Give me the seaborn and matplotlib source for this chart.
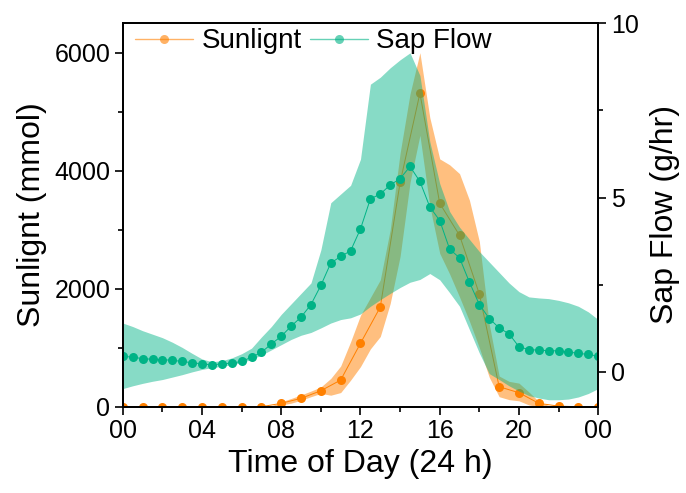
import numpy as np
import pandas as pd
import seaborn as sns
import matplotlib.pyplot as plt
from matplotlib.ticker import MultipleLocator

# hourly sunlight (left axis)
sun_hours = list(range(25))
sunlight = [0, 0, 0, 0, 0, 0, 0, 0, 58, 142, 271, 452, 1075, 1690, 3800, 5312,
            3447, 2905, 1910, 339, 237, 58, 10, 0, 0]

# half-hour grid for sap flow and both bands
half_hours = [i * 0.5 for i in range(49)]
sap_flow = [0.45, 0.42, 0.38, 0.36, 0.35, 0.33, 0.30, 0.26, 0.23, 0.20, 0.23, 0.25,
            0.30, 0.42, 0.56, 0.80, 1.02, 1.31, 1.57, 1.93, 2.48, 3.12, 3.31, 3.47,
            4.10, 4.96, 5.10, 5.36, 5.54, 5.89, 5.46, 4.73, 4.34, 3.52, 3.27, 2.57,
            1.93, 1.53, 1.26, 1.09, 0.72, 0.64, 0.62, 0.61, 0.60, 0.57, 0.53, 0.50, 0.45]
sap_low = [-0.48, -0.40, -0.33, -0.27, -0.22, -0.15, -0.08, 0.00, 0.07, 0.12, 0.16, 0.21,
           0.26, 0.36, 0.48, 0.63, 0.78, 0.93, 1.05, 1.13, 1.26, 1.40, 1.50, 1.55,
           1.66, 1.88, 2.07, 2.25, 2.42, 2.57, 2.65, 2.82, 2.64, 2.27, 1.88, 1.21,
           0.54, -0.05, -0.22, -0.40, -0.55, -0.68, -0.75, -0.80, -0.80, -0.78, -0.72, -0.62, -0.48]
sap_high = [1.40, 1.30, 1.18, 1.08, 0.98, 0.85, 0.70, 0.53, 0.37, 0.29, 0.32, 0.40,
            0.52, 0.68, 1.00, 1.30, 1.65, 1.95, 2.25, 2.55, 3.50, 4.85, 5.10, 5.35,
            6.10, 8.25, 8.45, 8.72, 8.95, 9.15, 8.50, 6.60, 5.40, 4.60, 4.15, 3.80,
            3.45, 3.15, 2.85, 2.55, 2.30, 2.15, 2.12, 2.10, 2.05, 1.98, 1.88, 1.72, 1.50]
sun_low = [0, 0, 0, 0, 0, 0, 0, 0, 0, 0, 0, 0, 0, 0, 0, 0, 30, 60, 110, 170,
           225, 195, 240, 450, 680, 980, 1190, 1750, 2550, 3800, 4600, 3400, 2600, 2250,
           1860, 1450, 1000, 500, 170, 120, 100, 30, 0, 0, 0, 0, 0, 0, 0]
sun_high = [0, 0, 0, 0, 0, 0, 0, 0, 0, 0, 0, 0, 0, 0, 0, 15, 85, 140, 200, 265,
            335, 480, 690, 1100, 1550, 1850, 2150, 3000, 4300, 5300, 6000, 4900, 4200, 4100,
            3950, 3500, 2800, 1400, 520, 430, 400, 250, 90, 20, 0, 0, 0, 0, 0]

x_labels = ["00", "04", "08", "12", "16", "20", "00"]

orange = "#FF8000"
green = "#00B386"

sun_df = pd.DataFrame({"hour": sun_hours, "Sunlignt": sunlight})
sap_df = pd.DataFrame({"hour": half_hours, "Sap Flow": sap_flow})

sns.set_style("ticks")
plt.rcParams["font.family"] = ["Liberation Sans", "DejaVu Sans"]
plt.rcParams["text.color"] = "black"
plt.rcParams["axes.labelcolor"] = "black"

fig = plt.figure(figsize=(6.86, 4.93), dpi=100)
ax = fig.add_axes([0.179, 0.175, 0.693, 0.778])
ax2 = ax.twinx()

# sunlight band + line on left axis
ax.fill_between(half_hours, sun_low, sun_high, color=orange, alpha=0.5, lw=0)
sns.lineplot(data=sun_df, x="hour", y="Sunlignt", ax=ax, color=orange, lw=0.7,
             marker="o", markersize=6.5, markeredgewidth=0, label="Sunlignt", legend=False)

# sap flow band + line on right axis
ax2.fill_between(half_hours, sap_low, sap_high, color=green, alpha=0.47, lw=0)
sns.lineplot(data=sap_df, x="hour", y="Sap Flow", ax=ax2, color=green, lw=0.7,
             marker="o", markersize=6.5, markeredgewidth=0, label="Sap Flow", legend=False)

ax.set_xlim(0, 24)
ax.set_ylim(0, 6500)
ax2.set_ylim(-1, 10)

ax.set_xticks(range(0, 25, 4))
ax.set_xticklabels(x_labels)
ax.xaxis.set_minor_locator(MultipleLocator(2))
ax.set_yticks([0, 2000, 4000, 6000])
ax.yaxis.set_minor_locator(MultipleLocator(1000))
ax2.set_yticks([0, 5, 10])
ax2.yaxis.set_minor_locator(MultipleLocator(2.5))

for a in (ax, ax2):
    a.tick_params(which="major", direction="out", length=6, width=1.2, labelsize=18, pad=3,
                  colors="black")
    a.tick_params(which="minor", direction="out", length=3.5, width=1.2, colors="black")
    for s in a.spines.values():
        s.set_visible(True)
        s.set_linewidth(1.3)
        s.set_color("black")

ax.set_xlabel("Time of Day (24 h)", fontsize=23, labelpad=4)
ax.set_ylabel("Sunlignt (mmol)", fontsize=23, labelpad=5)
ax2.set_ylabel("Sap Flow (g/hr)", fontsize=23, labelpad=8)

h1, l1 = ax.get_legend_handles_labels()
h2, l2 = ax2.get_legend_handles_labels()
leg = ax2.legend(h1 + h2, l1 + l2, loc="upper left", ncol=2, frameon=False,
                 fontsize=20, bbox_to_anchor=(-0.01, 1.03), handlelength=2.1,
                 handletextpad=0.3, columnspacing=0.3, borderaxespad=0.2)
for line in leg.get_lines():
    line.set_alpha(0.6)
    line.set_linewidth(1)

fig.savefig("out.png", dpi=100)
